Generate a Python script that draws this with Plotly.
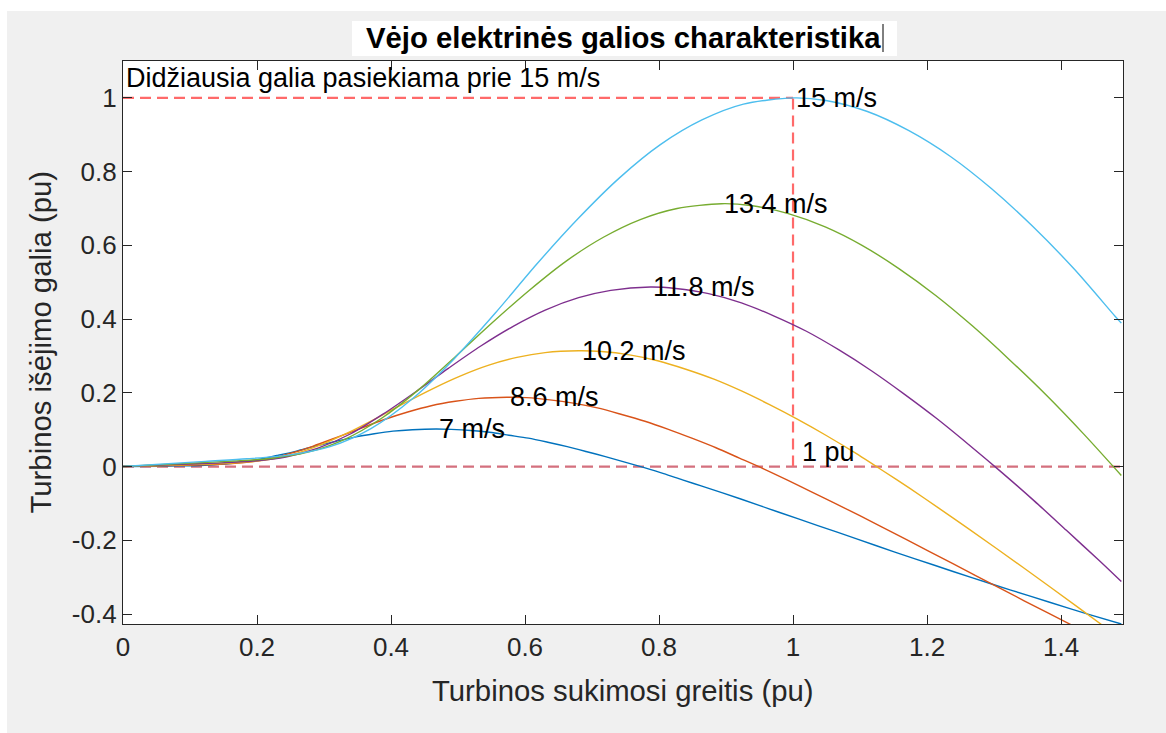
import plotly.graph_objects as go

# Turbine power characteristic, one curve per wind speed (speed and power in pu)
wind_labels = ["7 m/s", "8.6 m/s", "10.2 m/s", "11.8 m/s", "13.4 m/s", "15 m/s"]
line_colors = ["#0072BD", "#D95319", "#EDB120", "#7E2F8E", "#77AC30", "#4DBEEE"]

speed_7 = [0, 0.058, 0.086, 0.115, 0.144, 0.173, 0.202, 0.230, 0.259, 0.288, 0.317, 0.346,
           0.375, 0.403, 0.432, 0.467, 0.490, 0.519, 0.547, 0.576, 0.605, 0.634, 0.663,
           0.691, 0.720, 0.749, 0.778, 0.807, 0.835, 0.864, 0.922, 0.979, 1.037, 1.095,
           1.152, 1.210, 1.268, 1.325, 1.383, 1.440, 1.49]
power_7 = [0, 0.001, 0.002, 0.003, 0.006, 0.011, 0.019, 0.030, 0.042, 0.056, 0.068, 0.080,
           0.089, 0.096, 0.100, 0.102, 0.101, 0.098, 0.093, 0.085, 0.077, 0.066, 0.054,
           0.041, 0.027, 0.012, -0.003, -0.019, -0.036, -0.053, -0.088, -0.124, -0.160,
           -0.196, -0.232, -0.267, -0.302, -0.335, -0.368, -0.400, -0.427]

speed_8_6 = [0, 0.071, 0.106, 0.142, 0.177, 0.212, 0.248, 0.283, 0.319, 0.354, 0.389, 0.425,
             0.460, 0.496, 0.531, 0.573, 0.602, 0.637, 0.672, 0.708, 0.743, 0.779, 0.814,
             0.849, 0.885, 0.920, 0.956, 0.991, 1.026, 1.062, 1.133, 1.203, 1.274, 1.345,
             1.416, 1.486, 1.49]
power_8_6 = [0, 0.003, 0.004, 0.006, 0.010, 0.019, 0.035, 0.055, 0.079, 0.103, 0.127, 0.148,
             0.165, 0.177, 0.185, 0.188, 0.187, 0.181, 0.172, 0.159, 0.142, 0.123, 0.101,
             0.077, 0.051, 0.023, -0.006, -0.036, -0.067, -0.099, -0.164, -0.230, -0.297,
             -0.364, -0.430, -0.495, -0.498]

speed_10_2 = [0, 0.084, 0.126, 0.168, 0.210, 0.252, 0.294, 0.336, 0.378, 0.420, 0.462, 0.504,
              0.546, 0.588, 0.630, 0.680, 0.714, 0.756, 0.798, 0.840, 0.882, 0.923, 0.965,
              1.007, 1.049, 1.091, 1.133, 1.175, 1.217, 1.259, 1.343, 1.427, 1.49]
power_10_2 = [0, 0.004, 0.007, 0.010, 0.017, 0.032, 0.058, 0.092, 0.131, 0.172, 0.211, 0.246,
              0.275, 0.296, 0.309, 0.314, 0.312, 0.303, 0.287, 0.264, 0.237, 0.205, 0.168,
              0.128, 0.085, 0.039, -0.010, -0.060, -0.112, -0.165, -0.273, -0.384, -0.468]

speed_11_8 = [0, 0.097, 0.146, 0.194, 0.243, 0.291, 0.340, 0.388, 0.437, 0.486, 0.534, 0.583,
              0.631, 0.680, 0.728, 0.787, 0.825, 0.874, 0.923, 0.971, 1.020, 1.068, 1.117,
              1.165, 1.214, 1.262, 1.311, 1.360, 1.408, 1.457, 1.49]
power_11_8 = [0, 0.007, 0.010, 0.015, 0.026, 0.050, 0.089, 0.142, 0.203, 0.267, 0.327, 0.381,
              0.425, 0.458, 0.478, 0.487, 0.483, 0.469, 0.444, 0.409, 0.367, 0.317, 0.260,
              0.198, 0.131, 0.060, -0.015, -0.093, -0.173, -0.255, -0.312]

speed_13_4 = [0, 0.110, 0.165, 0.221, 0.276, 0.331, 0.386, 0.441, 0.496, 0.551, 0.607, 0.662,
              0.717, 0.772, 0.827, 0.893, 0.937, 0.993, 1.048, 1.103, 1.158, 1.213, 1.268,
              1.323, 1.379, 1.434, 1.49]
power_13_4 = [0, 0.010, 0.015, 0.022, 0.039, 0.074, 0.131, 0.208, 0.298, 0.390, 0.479, 0.558,
              0.622, 0.670, 0.700, 0.713, 0.708, 0.686, 0.650, 0.600, 0.537, 0.464, 0.381,
              0.290, 0.192, 0.088, -0.024]

speed_15 = [0, 0.123, 0.185, 0.247, 0.309, 0.370, 0.432, 0.494, 0.556, 0.617, 0.679, 0.741,
            0.802, 0.864, 0.926, 1.0, 1.049, 1.111, 1.173, 1.235, 1.296, 1.358, 1.420,
            1.481, 1.49]
power_15 = [0, 0.014, 0.021, 0.031, 0.054, 0.103, 0.184, 0.292, 0.417, 0.548, 0.672, 0.783,
            0.873, 0.940, 0.983, 1.000, 0.993, 0.963, 0.911, 0.841, 0.754, 0.651, 0.535,
            0.407, 0.389]

speeds = [speed_7, speed_8_6, speed_10_2, speed_11_8, speed_13_4, speed_15]
powers = [power_7, power_8_6, power_10_2, power_11_8, power_13_4, power_15]

# Rated operating point and axis settings
rated_speed = 1.0
rated_power = 1.0
speed_max = 1.49
x_ticks = [0, 0.2, 0.4, 0.6, 0.8, 1.0, 1.2, 1.4]
x_tick_text = ["0", "0.2", "0.4", "0.6", "0.8", "1", "1.2", "1.4"]
y_ticks = [-0.4, -0.2, 0, 0.2, 0.4, 0.6, 0.8, 1.0]
y_tick_text = ["-0.4", "-0.2", "0", "0.2", "0.4", "0.6", "0.8", "1"]

FONT = "Liberation Sans, Arial, Helvetica, sans-serif"
AXIS_COLOR = "#262626"
TEXT_SIZE = 27
LABEL_SIZE = 29.3
W, H = 1166, 733
ML, MR, MT, MB = 123, 43, 61, 109
PW, PH = W - ML - MR, H - MT - MB


def px_x(px):
    return (px - ML) / PW


def px_y(py):
    return (H - MB - py) / PH


fig = go.Figure()

# Reference lines: rated power, rated speed and zero power
dash = "11px,6px"
fig.add_trace(go.Scatter(x=[0, speed_max], y=[0, 0], mode="lines",
                         line=dict(color="#d4707e", width=2.2, dash=dash),
                         hoverinfo="skip", showlegend=False))
fig.add_trace(go.Scatter(x=[0, rated_speed], y=[rated_power, rated_power], mode="lines",
                         line=dict(color="#ff6a6a", width=2.2, dash=dash),
                         hoverinfo="skip", showlegend=False))
fig.add_trace(go.Scatter(x=[rated_speed, rated_speed], y=[0, rated_power], mode="lines",
                         line=dict(color="#ff6a6a", width=2.2, dash=dash),
                         hoverinfo="skip", showlegend=False))

annotations = []
for label, color, xs, ys in zip(wind_labels, line_colors, speeds, powers):
    fig.add_trace(go.Scatter(x=xs, y=ys, mode="lines", name=label,
                             line=dict(color=color, width=1.4, shape="spline", smoothing=0.8),
                             showlegend=False))
    i_peak = max(range(len(ys)), key=lambda i: ys[i])
    annotations.append(dict(x=xs[i_peak], y=ys[i_peak], xref="x", yref="y", text=label,
                            showarrow=False, xanchor="left", yanchor="middle", xshift=1,
                            font=dict(family=FONT, size=TEXT_SIZE, color="black")))

annotations.append(dict(x=0, y=1.055, xref="x", yref="y",
                        text="Didžiausia galia pasiekiama prie 15 m/s",
                        showarrow=False, xanchor="left", yanchor="middle", xshift=1,
                        font=dict(family=FONT, size=TEXT_SIZE, color="black")))
annotations.append(dict(x=rated_speed, y=0.04, xref="x", yref="y", text="1 pu",
                        showarrow=False, xanchor="left", yanchor="middle", xshift=7,
                        font=dict(family=FONT, size=TEXT_SIZE, color="black")))

# Title and axis titles
annotations.append(dict(x=0.5, y=px_y(38), xref="paper", yref="paper",
                        text="<b>Vėjo elektrinės galios charakteristika</b>",
                        showarrow=False, xanchor="center", yanchor="middle",
                        font=dict(family=FONT, size=LABEL_SIZE, color="black")))
annotations.append(dict(x=0.5, y=px_y(690), xref="paper", yref="paper",
                        text="Turbinos sukimosi greitis (pu)",
                        showarrow=False, xanchor="center", yanchor="middle",
                        font=dict(family=FONT, size=LABEL_SIZE, color=AXIS_COLOR)))
annotations.append(dict(x=px_x(40), y=0.5, xref="paper", yref="paper",
                        text="Turbinos išėjimo galia (pu)", textangle=-90,
                        showarrow=False, xanchor="center", yanchor="middle",
                        font=dict(family=FONT, size=LABEL_SIZE, color=AXIS_COLOR)))

shapes = [
    # white border around the figure window
    dict(type="rect", xref="paper", yref="paper", x0=px_x(0), x1=px_x(W), y0=px_y(11),
         y1=px_y(0), fillcolor="white", line=dict(width=0), layer="above"),
    dict(type="rect", xref="paper", yref="paper", x0=px_x(0), x1=px_x(7), y0=px_y(H),
         y1=px_y(0), fillcolor="white", line=dict(width=0), layer="above"),
    # title edit box with caret
    dict(type="rect", xref="paper", yref="paper", x0=px_x(352), x1=px_x(897), y0=px_y(56),
         y1=px_y(21), fillcolor="white", line=dict(width=0), layer="above"),
    dict(type="line", xref="paper", yref="paper", x0=px_x(883), x1=px_x(883), y0=px_y(52),
         y1=px_y(24), line=dict(color="black", width=1), layer="above"),
]

axis_common = dict(showgrid=False, zeroline=False, showline=True, linecolor=AXIS_COLOR,
                   linewidth=1.3, mirror="ticks", ticks="inside", ticklen=9, tickwidth=1.3,
                   tickcolor=AXIS_COLOR, tickfont=dict(family=FONT, size=26, color=AXIS_COLOR))

fig.update_layout(
    width=W, height=H,
    margin=dict(l=ML, r=MR, t=MT, b=MB),
    paper_bgcolor="#f0f0f0", plot_bgcolor="white",
    xaxis=dict(range=[0, 1.4925], tickvals=x_ticks, ticktext=x_tick_text, **axis_common),
    yaxis=dict(range=[-0.427, 1.1], tickvals=y_ticks, ticktext=y_tick_text, **axis_common),
    annotations=annotations, shapes=shapes,
)

fig.write_html("out.html")
